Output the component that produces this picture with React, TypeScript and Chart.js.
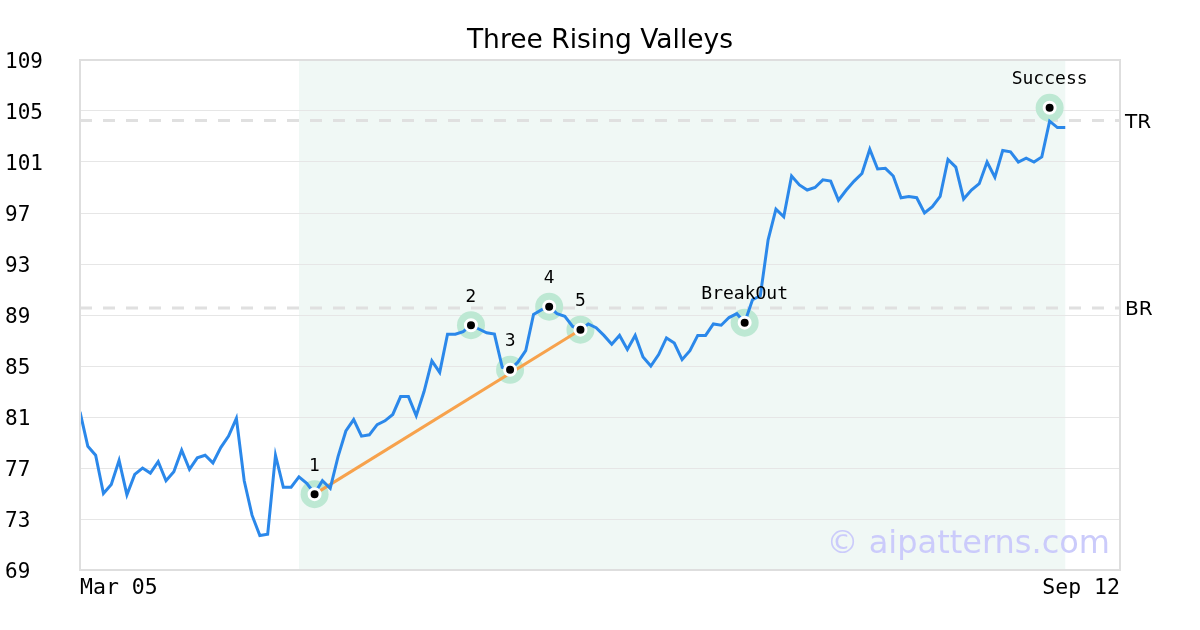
import React, { useEffect, useRef } from 'react';
import { Chart, registerables } from 'chart.js';

Chart.register(...registerables);

// ---- data ----
const prices = [
  81.4, 78.7, 78.0, 75.0, 75.7, 77.6, 74.9, 76.5, 77.0, 76.6,
  77.5, 76.0, 76.7, 78.4, 76.9, 77.8, 78.0, 77.4, 78.6, 79.5,
  80.9, 76.0, 73.3, 71.7, 71.8, 78.0, 75.5, 75.5, 76.3, 75.8,
  75.0, 76.0, 75.4, 77.9, 79.9, 80.8, 79.5, 79.6, 80.4, 80.7,
  81.2, 82.6, 82.6, 81.1, 83.0, 85.4, 84.5, 87.5, 87.5, 87.7,
  88.2, 87.9, 87.6, 87.5, 84.9, 84.7, 85.3, 86.2, 89.05, 89.4,
  89.65, 89.1, 88.9, 88.1, 87.85, 88.3, 88.0, 87.4, 86.7, 87.4,
  86.3, 87.4, 85.7, 85.0, 85.9, 87.2, 86.8, 85.5, 86.2, 87.4,
  87.4, 88.3, 88.2, 88.8, 89.1, 88.4, 90.2, 90.5, 94.9, 97.3,
  96.7, 99.9, 99.2, 98.8, 99.0, 99.6, 99.5, 98.0, 98.8, 99.5,
  100.1, 102.0, 100.45, 100.5, 99.9, 98.2, 98.3, 98.2, 97.0, 97.5,
  98.3, 101.2, 100.6, 98.1, 98.8, 99.3, 101.0, 99.8, 101.9, 101.8,
  101.0, 101.3, 101.0, 101.4, 104.2, 103.7, 103.7,
];

const markerIdx = [30, 50, 55, 60, 64, 85, 124];
const markerVals = [74.95, 88.2, 84.7, 89.65, 87.85, 88.4, 105.25];
const markerLabels = ['1', '2', '3', '4', '5', 'BreakOut', 'Success'];

const trendIdx = [30, 64];
const trendVals = [74.95, 87.85];

const levelNames = ['TR', 'BR'];
const levelVals = [104.25, 89.55];

const xTickVals = [0, 133];
const xTickLabels = ['Mar 05', 'Sep 12'];

const shadeRange = [28, 126];

const yMin = 69;
const yMax = 109;
const yStep = 4;

const MONO = '"DejaVu Sans Mono", monospace';
const SANS = '"DejaVu Sans", sans-serif';

export default function App() {
  const ref = useRef<HTMLCanvasElement | null>(null);

  useEffect(() => {
    document.body.style.margin = '0';
    const canvas = ref.current;
    if (!canvas) return;

    const deco = {
      id: 'deco',
      beforeDraw(chart: any) {
        const { ctx, chartArea } = chart;
        const xs = chart.scales.x;
        const x0 = xs.getPixelForValue(shadeRange[0]);
        const x1 = xs.getPixelForValue(shadeRange[1]);
        ctx.save();
        ctx.fillStyle = '#f0f8f5';
        ctx.fillRect(x0, chartArea.top, x1 - x0, chartArea.bottom - chartArea.top);
        ctx.restore();
      },
      afterDatasetsDraw(chart: any) {
        const { ctx, chartArea } = chart;
        const meta = chart.getDatasetMeta(0);
        ctx.save();
        ctx.fillStyle = '#000';
        ctx.textAlign = 'center';
        ctx.textBaseline = 'middle';
        meta.data.forEach((pt: any, i: number) => {
          const lbl = markerLabels[i];
          ctx.font = /^\d+$/.test(lbl) ? `17px ${SANS}` : `18px ${MONO}`;
          ctx.fillText(lbl, pt.x, pt.y - 28);
        });
        // watermark
        ctx.font = `32px ${SANS}`;
        ctx.fillStyle = '#cbcbfb';
        ctx.textAlign = 'right';
        ctx.textBaseline = 'alphabetic';
        ctx.fillText('\u00a9 aipatterns.com', chartArea.right - 10, chartArea.bottom - 17);
        ctx.restore();
      },
      afterDraw(chart: any) {
        const { ctx, chartArea } = chart;
        const ys = chart.scales.y;
        ctx.save();
        ctx.strokeStyle = '#dedede';
        ctx.lineWidth = 2;
        ctx.strokeRect(chartArea.left, chartArea.top, chartArea.right - chartArea.left, chartArea.bottom - chartArea.top);
        // title
        ctx.fillStyle = '#000';
        ctx.font = `26.5px ${SANS}`;
        ctx.textAlign = 'center';
        ctx.textBaseline = 'middle';
        ctx.fillText('Three Rising Valleys', chart.width / 2, 41);
        // level labels
        ctx.font = `20px ${SANS}`;
        ctx.textAlign = 'left';
        levelNames.forEach((n, i) => {
          ctx.fillText(n, chartArea.right + 5, ys.getPixelForValue(levelVals[i]) + 2);
        });
        ctx.restore();
      },
    };

    const levelSets = levelVals.map((v, i) => ({
      label: levelNames[i],
      data: xTickVals.map((x) => ({ x, y: v })),
      borderColor: '#e0e0e0',
      borderWidth: 3,
      borderDash: [12, 11],
      pointRadius: 0,
      order: 4,
    }));

    const chart = new Chart(canvas, {
      type: 'line',
      data: {
        datasets: [
          {
            label: 'dots',
            data: markerIdx.map((x, i) => ({ x, y: markerVals[i] })),
            showLine: false,
            pointRadius: 5.5,
            pointBackgroundColor: '#000',
            pointBorderColor: '#fff',
            pointBorderWidth: 3,
            order: 0,
          },
          {
            label: 'price',
            data: prices.map((y, i) => ({ x: i, y })),
            borderColor: '#2b88ea',
            borderWidth: 3,
            pointRadius: 0,
            tension: 0,
            order: 1,
          },
          {
            label: 'trend',
            data: trendIdx.map((x, i) => ({ x, y: trendVals[i] })),
            borderColor: '#f7a24c',
            borderWidth: 3,
            pointRadius: 0,
            order: 2,
          },
          {
            label: 'halo',
            data: markerIdx.map((x, i) => ({ x, y: markerVals[i] })),
            showLine: false,
            pointRadius: 14,
            pointBackgroundColor: '#bde8d3',
            pointBorderWidth: 0,
            order: 3,
          },
          ...levelSets,
        ] as any,
      },
      options: {
        animation: false,
        responsive: false,
        events: [],
        layout: { padding: { left: 5, right: 80, top: 60, bottom: 0 } },
        plugins: {
          legend: { display: false },
          tooltip: { enabled: false },
          title: { display: false },
        },
        scales: {
          x: {
            type: 'linear',
            min: xTickVals[0],
            max: xTickVals[1],
            grid: { display: false, drawTicks: false },
            border: { display: false },
            afterBuildTicks(scale: any) {
              scale.ticks = xTickVals.map((v) => ({ value: v }));
            },
            afterFit(scale: any) {
              scale.height = 60;
            },
            ticks: {
              align: 'inner',
              padding: 6,
              maxRotation: 0,
              autoSkip: false,
              color: '#000',
              font: { family: MONO, size: 21.5 },
              callback: (v: any) => {
                const k = xTickVals.indexOf(Number(v));
                return k >= 0 ? xTickLabels[k] : '';
              },
            },
          },
          y: {
            min: yMin,
            max: yMax,
            grid: { color: '#e6e6e6', lineWidth: 1, drawTicks: false },
            border: { display: false },
            afterFit(scale: any) {
              scale.width = 75;
            },
            ticks: {
              stepSize: yStep,
              crossAlign: 'far',
              padding: 8,
              labelOffset: 3,
              color: '#000',
              font: { family: MONO, size: 21 },
            },
          },
        },
      } as any,
      plugins: [deco],
    });

    return () => {
      chart.destroy();
    };
  }, []);

  return (
    <div style={{ width: 1200, height: 630, background: '#fff' }}>
      <canvas ref={ref} width={1200} height={630} style={{ display: 'block' }} />
    </div>
  );
}
